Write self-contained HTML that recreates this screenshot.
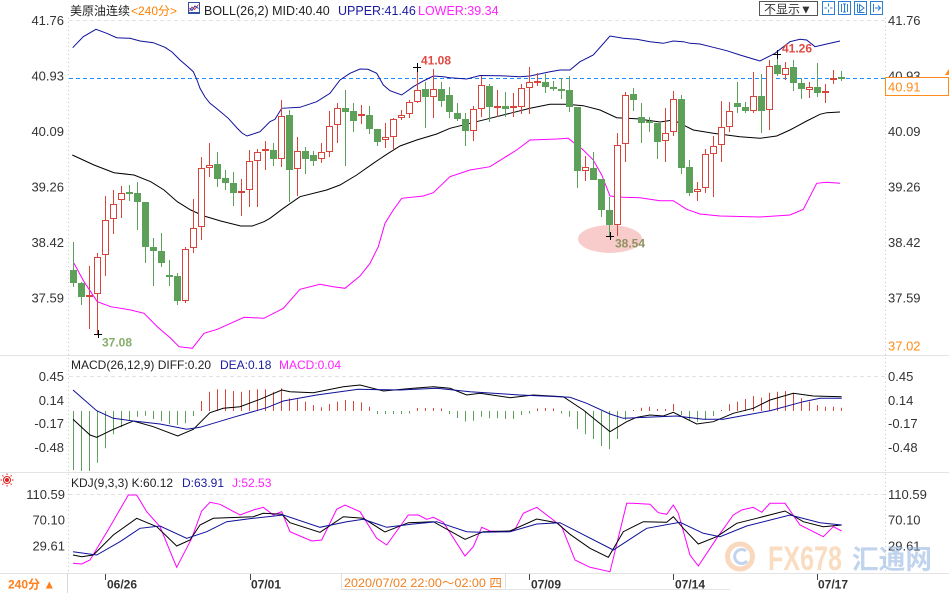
<!DOCTYPE html>
<html><head><meta charset="utf-8"><style>
html,body{margin:0;padding:0;background:#fff;}
svg{display:block;}
text{font-family:"Liberation Sans","Noto Sans CJK SC",sans-serif;}
</style></head><body>
<svg width="949" height="593" viewBox="0 0 949 593" xmlns="http://www.w3.org/2000/svg">
<rect width="949" height="593" fill="#fff"/>
<!-- panel separators -->
<g stroke="#e3e3e3" stroke-width="1">
<line x1="0" y1="355.5" x2="949" y2="355.5"/>
<line x1="0" y1="472.5" x2="949" y2="472.5"/>
<line x1="0" y1="573.5" x2="949" y2="573.5"/>
</g>
<!-- axes -->
<g stroke="#c8c8c8" stroke-width="1" stroke-dasharray="1,3">
<line x1="68.5" y1="18" x2="68.5" y2="573"/>
<line x1="885.5" y1="18" x2="885.5" y2="573"/>
</g>
<!-- grid dashed tops -->
<g stroke="#e2e2e2" stroke-width="1" stroke-dasharray="4,3">
<line x1="69" y1="20.5" x2="885" y2="20.5"/>
<line x1="69" y1="376.5" x2="885" y2="376.5"/>
<line x1="69" y1="494.5" x2="885" y2="494.5"/>
</g>
<!-- header -->
<text x="70" y="15" font-size="12" fill="#222">美原油连续</text>
<text x="131" y="15" font-size="12" fill="#ff8000">&lt;240分&gt;</text>
<g transform="translate(188,2)"><rect x="0.5" y="0.5" width="11" height="11" fill="#fff" stroke="#3050a0"/><polyline points="1.5,9 4,5 6.5,7.5 10.5,2.5" fill="none" stroke="#e03030"/><polyline points="1.5,6 4,8.5 7,4 10.5,6.5" fill="none" stroke="#2040c0"/><line x1="0.5" y1="10.5" x2="11.5" y2="10.5" stroke="#3050a0"/></g>
<text x="204" y="15" font-size="12.5" fill="#222">BOLL(26,2) MID:40.40</text>
<text x="338" y="15" font-size="12.5" fill="#1a1aa0">UPPER:41.46</text>
<text x="418" y="15" font-size="12.5" fill="#ff22ff">LOWER:39.34</text>
<!-- toolbar -->
<rect x="759.5" y="1.5" width="58" height="14" fill="#fff" stroke="#555"/>
<text x="764" y="13.5" font-size="12" fill="#333">不显示▼</text>
<g stroke="#2a7fd4" fill="#fff">
<rect x="822.5" y="1.5" width="12" height="13"/>
<rect x="838.5" y="1.5" width="12" height="13"/>
<rect x="854.5" y="1.5" width="12" height="13"/>
<rect x="870.5" y="1.5" width="12" height="13"/>
</g>
<g stroke="#2a7fd4" fill="none">
<path d="M828.5 3.5V6.5M828.5 9.5V12.5M824.5 8H827M830 8H832.5"/>
<path d="M841.5 4V12M847.5 4V12M844.5 4V12M843 4H846M843 12H846"/>
<path d="M857.5 3.5V12.5M857.5 12.5H864.5M859.5 4.5L864 8L859.5 11.5Z"/>
<path d="M873.5 4V12M875 8H880M878 5.5L880.5 8L878 10.5"/>
</g>
<!-- left labels -->
<g font-size="13" fill="#333" text-anchor="end">
<text x="64" y="25">41.76</text>
<text x="64" y="80.5">40.93</text>
<text x="64" y="136">40.09</text>
<text x="64" y="191.5">39.26</text>
<text x="64" y="247">38.42</text>
<text x="64" y="302.5">37.59</text>
<text x="64" y="381">0.45</text>
<text x="64" y="405">0.14</text>
<text x="64" y="428">-0.17</text>
<text x="64" y="452">-0.48</text>
<text x="65" y="499">110.59</text>
<text x="65" y="524.5">70.10</text>
<text x="65" y="550.5">29.61</text>
</g>
<!-- right labels -->
<g font-size="13" fill="#333">
<text x="888" y="25">41.76</text>
<text x="888" y="80.5">40.93</text>
<text x="888" y="136">40.09</text>
<text x="888" y="191.5">39.26</text>
<text x="888" y="247">38.42</text>
<text x="888" y="302.5">37.59</text>
<text x="888" y="350.5" fill="#ff8c1a">37.02</text>
<text x="888" y="381">0.45</text>
<text x="888" y="405">0.14</text>
<text x="888" y="428">-0.17</text>
<text x="888" y="452">-0.48</text>
<text x="888" y="499">110.59</text>
<text x="888" y="524.5">70.10</text>
<text x="888" y="550.5">29.61</text>
</g>
<!-- current price line and box -->
<line x1="69" y1="78.5" x2="885" y2="78.5" stroke="#1e8fff" stroke-width="1" stroke-dasharray="4,3"/>
<rect x="885.5" y="77.5" width="63" height="18" fill="#fff" stroke="#ff8c1a"/>
<text x="888" y="91.5" font-size="13" fill="#ff8c1a">40.91</text>
<polygon points="945,75 949,69 949,75" fill="#ff8c1a"/>
<!-- pink ellipse -->
<ellipse cx="610" cy="239" rx="32" ry="14" fill="#f9cccc"/>
<!-- bollinger -->
<g fill="none" stroke-width="1">
<polyline stroke="#10109a" points="72.7,47.7 83.3,36.7 96,29.3 106.7,33.3 116.7,37.7 130,38.3 140,41 153.3,42.7 165,47.3 172,52 180,60 187,66 193.3,71.7 197,80 200,88.3 205,97 210,103.3 216,108 228.3,118.3 237,128 242,133 247,136 250,135 260,131.7 270,121.7 275,119.3 281.7,108.3 300,107.3 316.7,101.7 330,93.3 340,80 350,73.3 360,69 368,69.3 376.7,73.3 383.3,85 390,90.7 401.7,95 413.3,86.7 423.3,81 433.3,76 443.3,76.7 450,77.8 466.7,79 480,75.5 500,75.7 520,76.7 530,76 550,71.7 560,70 570,70 580,61.7 593.3,55 610,36 623.3,38.3 636.7,39.3 650,41.7 663.3,43.3 673.3,41 683.3,41.7 690,43.3 700,44 713.3,47.3 726.7,50.7 740,55 753.3,59 760,61 775,53.3 790,41.7 800,39.3 806.7,40 815,46.7 826.7,44 840,41"/>
<polyline stroke="#000" points="72.3,155 94,165 114,172.7 134,175 150.7,181.7 164,190 177.3,201.7 190.7,210 204,216 220.7,221 240.7,226 252.3,226 264,221.7 270,218.3 283.3,208.3 300,196.7 326.7,190 340,185 356.7,175 373.3,163.3 386.7,154.3 400,146 416.7,140 436.7,134 450,128.3 470,123.3 490,118.3 510,113.3 530,108.3 550,104.3 566.7,104.3 583.3,105.7 600,110 616.7,117.7 636.7,118.8 660,122 673.3,120 693.3,130 713.3,133.3 740,136.7 760,138.3 776.7,136 790,130 806.7,121 820,114.3 826.7,112.7 840,112"/>
<polyline stroke="#ff00ff" points="74,263.3 84,281.7 97.3,301.7 110.7,306.7 130.7,310 144,313.3 157.3,326.7 170.7,338.3 179,346.7 192.3,348.3 204,333.3 217.3,329.3 230.7,323.3 244,317.3 264,318.3 283.3,308.3 300,289.3 320,284.3 333.3,286.7 345,288.3 360,276 370,263.3 378.3,246.7 385,223.3 393.3,210 401.7,198.3 423.3,196 433.3,192.7 450,176.7 470,170 490,166.7 503.3,158.3 516.7,150 530,140 556.7,139 568.3,138.3 576.7,145 583.3,150 593.3,160 601.7,175 610,196 623.3,197.3 640,197.7 660,200.7 673.3,200.7 686.7,209.3 700,214 720,216 760,217 790,215 803.3,209.3 816.7,183.3 826.7,182.3 840,183.3"/>
</g>
<!-- green wicks -->
<path fill="none" stroke="#5da05a" stroke-width="1" d="M73.5 242V287M81.5 282V305M129.5 185V201M137.5 182V230M145.5 202V263M153.5 238V286M161.5 233V267M169.5 260V286M177.5 273V305M217.5 152V187M225.5 170V190M233.5 172V206M273.5 143V166M289.5 110V202M305.5 147V174M313.5 151V166M345.5 90V166M353.5 103V132M369.5 106V134M377.5 129V146M425.5 82V128M441.5 82V107M449.5 87V118M457.5 103V121M465.5 113V146M489.5 84V122M505.5 92V117M545.5 74V93M553.5 81V91M561.5 78V99M569.5 76V112M577.5 107V188M593.5 152V180M601.5 179V217M609.5 197V236M633.5 88V111M641.5 103V143M649.5 117V132M657.5 123V159M681.5 95V174M689.5 160V196M737.5 82V113M745.5 102V113M761.5 74V133M777.5 53V76M793.5 60V91M801.5 78V99M817.5 63V97M841.5 71V81"/>
<!-- green bodies -->
<g fill="#5da05a">
<rect x="70" y="270" width="7" height="13"/><rect x="78" y="283" width="7" height="14"/><rect x="126" y="192" width="7" height="2"/><rect x="134" y="193" width="7" height="9"/><rect x="142" y="202" width="7" height="45"/><rect x="150" y="247" width="7" height="4"/><rect x="158" y="251" width="7" height="12"/><rect x="166" y="275" width="7" height="2"/><rect x="174" y="276" width="7" height="25"/><rect x="214" y="164" width="7" height="15"/><rect x="222" y="178" width="7" height="5"/><rect x="230" y="183" width="7" height="10"/><rect x="270" y="150" width="7" height="9"/><rect x="286" y="115" width="7" height="55"/><rect x="302" y="151" width="7" height="8"/><rect x="310" y="155" width="7" height="6"/><rect x="342" y="108" width="7" height="4"/><rect x="350" y="111" width="7" height="10"/><rect x="366" y="115" width="7" height="14"/><rect x="374" y="129" width="7" height="13"/><rect x="422" y="89" width="7" height="8"/><rect x="438" y="89" width="7" height="12"/><rect x="446" y="95" width="7" height="17"/><rect x="454" y="113" width="7" height="6"/><rect x="462" y="119" width="7" height="12"/><rect x="486" y="86" width="7" height="21"/><rect x="502" y="106" width="7" height="3"/><rect x="542" y="82" width="7" height="5"/><rect x="550" y="87" width="7" height="2"/><rect x="558" y="89" width="7" height="2"/><rect x="566" y="90" width="7" height="17"/><rect x="574" y="107" width="7" height="64"/><rect x="590" y="168" width="7" height="12"/><rect x="598" y="179" width="7" height="31"/><rect x="606" y="210" width="7" height="15"/><rect x="630" y="94" width="7" height="6"/><rect x="638" y="117" width="7" height="6"/><rect x="646" y="121" width="7" height="2"/><rect x="654" y="123" width="7" height="19"/><rect x="678" y="99" width="7" height="69"/><rect x="686" y="167" width="7" height="26"/><rect x="734" y="103" width="7" height="4"/><rect x="742" y="107" width="7" height="4"/><rect x="758" y="96" width="7" height="15"/><rect x="774" y="65" width="7" height="9"/><rect x="790" y="67" width="7" height="16"/><rect x="798" y="83" width="7" height="6"/><rect x="814" y="87" width="7" height="6"/><rect x="838" y="77" width="7" height="2"/>
</g>
<!-- red wicks -->
<path fill="none" stroke="#d9443a" stroke-width="1" d="M89.5 266V329M97.5 253V334M105.5 196V276M113.5 190V234M121.5 186V218M185.5 247V303M193.5 199V253M201.5 157V240M209.5 143V177M241.5 179V216M249.5 150V207M257.5 149V207M265.5 141V170M281.5 100V167M297.5 137V196M321.5 143V163M329.5 111V157M337.5 103V143M361.5 105V124M385.5 123V148M393.5 118V150M401.5 110V120M409.5 100V118M417.5 67V103M433.5 69V118M473.5 106V141M481.5 76V117M497.5 90V117M513.5 93V117M521.5 84V114M529.5 67V114M537.5 73V86M585.5 156V181M617.5 133V236M625.5 92V162M665.5 108V162M673.5 91V136M697.5 182V201M705.5 149V193M713.5 136V197M721.5 101V162M729.5 102V132M753.5 72V113M769.5 60V130M785.5 62V80M809.5 82V98M825.5 84V103M833.5 70V84"/>
<!-- red hollow bodies -->
<g fill="#fff" stroke="#d9443a" stroke-width="1">
<rect x="94.5" y="257.5" width="6" height="36"/><rect x="102.5" y="220.5" width="6" height="34"/><rect x="110.5" y="204.5" width="6" height="14"/><rect x="118.5" y="193.5" width="6" height="6"/><rect x="182.5" y="249.5" width="6" height="51"/><rect x="190.5" y="228.5" width="6" height="19"/><rect x="198.5" y="168.5" width="6" height="58"/><rect x="206.5" y="165.5" width="6" height="2"/><rect x="246.5" y="161.5" width="6" height="28"/><rect x="254.5" y="152.5" width="6" height="8"/><rect x="278.5" y="116.5" width="6" height="42"/><rect x="294.5" y="151.5" width="6" height="17"/><rect x="318.5" y="152.5" width="6" height="6"/><rect x="326.5" y="126.5" width="6" height="25"/><rect x="334.5" y="108.5" width="6" height="16"/><rect x="382.5" y="137.5" width="6" height="2"/><rect x="390.5" y="119.5" width="6" height="17"/><rect x="398.5" y="115.5" width="6" height="2"/><rect x="406.5" y="102.5" width="6" height="11"/><rect x="414.5" y="90.5" width="6" height="11"/><rect x="430.5" y="89.5" width="6" height="7"/><rect x="470.5" y="109.5" width="6" height="21"/><rect x="478.5" y="85.5" width="6" height="23"/><rect x="518.5" y="88.5" width="6" height="18"/><rect x="526.5" y="82.5" width="6" height="5"/><rect x="582.5" y="167.5" width="6" height="3"/><rect x="614.5" y="145.5" width="6" height="79"/><rect x="622.5" y="95.5" width="6" height="48"/><rect x="662.5" y="133.5" width="6" height="7"/><rect x="670.5" y="99.5" width="6" height="32"/><rect x="694.5" y="189.5" width="6" height="2"/><rect x="702.5" y="154.5" width="6" height="33"/><rect x="710.5" y="146.5" width="6" height="7"/><rect x="718.5" y="127.5" width="6" height="17"/><rect x="726.5" y="111.5" width="6" height="15"/><rect x="750.5" y="96.5" width="6" height="14"/><rect x="766.5" y="66.5" width="6" height="43"/><rect x="782.5" y="68.5" width="6" height="6"/><rect x="806.5" y="87.5" width="6" height="2"/>
</g>
<!-- red doji -->
<g fill="#d9443a">
<rect x="86" y="295" width="7" height="2"/><rect x="238" y="191" width="7" height="2"/><rect x="262" y="149" width="7" height="2"/><rect x="358" y="114" width="7" height="2"/><rect x="494" y="106" width="7" height="2"/><rect x="510" y="106" width="7" height="2"/><rect x="534" y="81" width="7" height="2"/><rect x="822" y="91" width="7" height="2"/><rect x="830" y="78" width="7" height="2"/>
</g>
<!-- markers -->
<g stroke="#000" stroke-width="1">
<path d="M413 67.5H421M417.5 63V72"/>
<path d="M773 54.5H781M777.5 50V59"/>
<path d="M94 334.5H102M98.5 330V338"/>
<path d="M606 236.5H614M610.5 232V240"/>
</g>
<text x="421" y="64.5" font-size="12" font-weight="bold" fill="#e04a42">41.08</text>
<text x="782" y="52.5" font-size="12" font-weight="bold" fill="#e04a42">41.26</text>
<text x="102" y="346.5" font-size="12" font-weight="bold" fill="#86ad6a">37.08</text>
<text x="615" y="247.5" font-size="12" font-weight="bold" fill="#8f9262">38.54</text>
<!-- MACD header -->
<text x="71" y="369" font-size="12" fill="#222">MACD(26,12,9) DIFF:0.20</text>
<text x="220" y="369" font-size="12" fill="#1a1aa0">DEA:0.18</text>
<text x="279" y="369" font-size="12" fill="#ff22ff">MACD:0.04</text>
<!-- MACD bars -->
<path fill="none" stroke="#5da05a" stroke-width="1" d="M73.5 411V470M81.5 411V471M89.5 411V471M97.5 411V462.7M105.5 411V448.3M113.5 411V434.3M121.5 411V427.3M129.5 411V420M137.5 411V416.7M145.5 411V415.7M153.5 411V419M161.5 411V421M169.5 411V424.3M177.5 411V425M185.5 411V423.3M193.5 411V416M377.5 411V414M385.5 411V414M393.5 411V414M401.5 411V414M409.5 411V413.5M449.5 411V414M457.5 411V418M465.5 411V421.5M473.5 411V420.7M481.5 411V416.7M489.5 411V418.3M497.5 411V418.3M505.5 411V419M513.5 411V419M521.5 411V415M529.5 411V413.5M561.5 411V413.5M569.5 411V416.7M577.5 411V429M585.5 411V434.3M593.5 411V439M601.5 411V446M609.5 411V449.3M617.5 411V439M625.5 411V420M681.5 411V415M689.5 411V420M697.5 411V421.7M705.5 411V420M713.5 411V416"/>
<path fill="none" stroke="#d9443a" stroke-width="1" d="M201.5 411V401M209.5 411V391.7M217.5 411V389.3M225.5 411V389.3M233.5 411V391M241.5 411V391.7M249.5 411V390M257.5 411V389.3M265.5 411V389.3M273.5 411V391.7M281.5 411V388.3M289.5 411V398.3M297.5 411V399.3M305.5 411V401.7M313.5 411V405M321.5 411V407.3M329.5 411V404M337.5 411V401.7M345.5 411V400M353.5 411V401M361.5 411V402.3M369.5 411V406.7M417.5 411V408M425.5 411V408M433.5 411V408M441.5 411V408.5M537.5 411V408.5M545.5 411V408M553.5 411V408.5M633.5 411V410M641.5 411V407.7M649.5 411V406.7M657.5 411V409M665.5 411V409M673.5 411V404M721.5 411V410M729.5 411V404.3M737.5 411V401.7M745.5 411V399M753.5 411V396M761.5 411V397.7M769.5 411V392.7M777.5 411V391.7M785.5 411V391M793.5 411V393.3M801.5 411V398.3M809.5 411V401.7M817.5 411V405M825.5 411V406.7M833.5 411V406.7M841.5 411V407.7"/>
<g fill="none" stroke-width="1">
<polyline stroke="#000" points="73,419.3 90,435 96.7,437.3 113.3,429.3 133.3,421 153.3,426.7 177.7,436 193.3,429.3 210,412.7 223.3,408.3 240,406.7 260,399.3 281.7,390 290,391.7 313.3,392.7 343.3,386.7 360,385 383.3,391 413.3,388.3 433.3,386.7 450,388.3 466.7,395 480,393.3 510,397.7 533.3,395 563.3,396.7 583.3,410 610,431.7 626.7,421.7 636.7,417.3 650,415 663.3,416 673.3,412.3 696.7,424 713.3,421.7 733.3,413.3 753.3,408.3 770,400 793.3,393.3 813.3,396 841.7,396.7"/>
<polyline stroke="#10109a" points="73,390 96.7,410.7 113.3,418.3 133.3,421 160,424 186.7,429.3 200,427.3 233.3,417.3 266.7,407.7 283.3,401 316.7,395 358.3,389.3 400,390 436.7,388.3 470,391.7 520,395 570,397.3 586.7,403.3 610,414 623.3,418.3 646.7,417.3 676.7,416 703.3,419.3 723.3,419.3 770,410.7 803.3,401.7 820,398.3 841.7,398.3"/>
</g>
<!-- KDJ header -->
<g transform="translate(7,480)" stroke="#e02020" fill="none">
<circle r="3.5"/><circle r="1.5" fill="#e02020"/>
<path d="M0 -6.5V-5M0 5V6.5M-6.5 0H-5M5 0H6.5M-4.6 -4.6L-3.6 -3.6M3.6 3.6L4.6 4.6M-4.6 4.6L-3.6 3.6M3.6 -3.6L4.6 -4.6"/>
</g>
<text x="71" y="487" font-size="12" fill="#222">KDJ(9,3,3) K:60.12</text>
<text x="182" y="487" font-size="12" fill="#1a1aa0">D:63.91</text>
<text x="232" y="487" font-size="12" fill="#ff22ff">J:52.53</text>
<g fill="none" stroke-width="1">
<polyline stroke="#ff00ff" points="73,563.3 81.7,564 90,560 110,526.7 128.3,495 136.7,495 146.7,511.7 160,526.7 176.7,567.3 191.7,538.3 201.7,511 210,502.3 220,504.3 240,515 253.3,510 263.3,507.3 273.3,515 281.7,511.7 290,531.7 311.7,541 321.7,540 336.7,509.3 345,505 360,511.7 376.7,538.3 386.7,545 408.3,515 418.3,515 426.7,519.3 433.3,517.3 443.3,522.3 465,556 473.3,546.7 481.7,527.3 490,531 508.3,531.7 515,529.3 523.3,513.3 536.7,507.3 553.3,520 561.7,526.7 575,560 590,567.3 610,571.7 626.7,503.3 633.3,503.3 650,504.3 658.3,512.7 666.7,514.3 673.3,505 678.3,513.3 690,555 698.3,566 716.7,538.3 733.3,515 741.7,510 753.3,507.3 761.7,512.3 770,503.3 785,503.3 800,525 823.3,536.7 833.3,526.7 841.7,531"/>
<polyline stroke="#000" points="73,555 81.7,556.7 93.3,555 113.3,535 136.7,518.3 156.7,526.7 176.7,546 190,540 200,525 213.3,518.3 226.7,517.7 253.3,516.7 263.3,513.3 281.7,514.3 290,522.7 320,532.3 343.3,516.7 363.3,518.3 385,532 408.3,522.7 433.3,521.7 465,539.3 483.3,531.7 510,531 536.7,519 556.7,522.7 570,534.3 590,548.3 608.3,557.3 623.3,531.7 643.3,521.7 666.7,522.3 673.3,516.7 683.3,528.3 698.3,544 716.7,536.7 736.7,523.3 756.7,518.3 785,511 803.3,521.7 823.3,526.7 841.7,525"/>
<polyline stroke="#10109a" points="73,551.7 96.7,555 120,541.7 140,528.3 160,526 186.7,538.3 206.7,531.7 226.7,521.7 253.3,518.3 283.3,515 320,527.3 346.7,521.7 363.3,519.3 386.7,527.3 413.3,524 436.7,521.7 466.7,531.7 480,532.3 510,531.7 536.7,524 560,522.7 613.3,550 646.7,528.3 680,522.3 703.3,533.3 720,536.7 746.7,526 790,515 820,522.7 841.7,525"/>
</g>
<!-- watermark -->
<g opacity="0.55">
<circle cx="740" cy="556.5" r="12.5" fill="none" stroke="#f6b98a" stroke-width="5"/>
<path d="M746 551 A7 7 0 1 0 747 561" fill="none" stroke="#8fb2e0" stroke-width="3"/>
<text x="768" y="570" font-size="34" font-weight="bold" fill="#f7c08f" textLength="74" lengthAdjust="spacingAndGlyphs">FX678</text>
<text x="852" y="569" font-size="27" font-weight="bold" fill="#8fb2e0" textLength="80" lengthAdjust="spacingAndGlyphs" style="font-family:'Noto Sans CJK SC',sans-serif">汇通网</text>
</g>
<!-- bottom axis -->
<line x1="67.5" y1="573" x2="67.5" y2="593" stroke="#d8d8d8"/>
<text x="8" y="588.5" font-size="12" font-weight="bold" fill="#ff7f1a">240分 ▲</text>
<g stroke="#444" stroke-width="1">
<line x1="105.5" y1="574" x2="105.5" y2="580"/>
<line x1="250.5" y1="574" x2="250.5" y2="580"/>
<line x1="529.5" y1="574" x2="529.5" y2="580"/>
<line x1="673.5" y1="574" x2="673.5" y2="580"/>
<line x1="817.5" y1="574" x2="817.5" y2="580"/>
</g>
<g font-size="12" font-weight="bold" fill="#333">
<text x="107" y="588.5">06/26</text>
<text x="251" y="588.5">07/01</text>
<text x="531" y="588.5">07/09</text>
<text x="675" y="588.5">07/14</text>
<text x="818" y="588.5">07/17</text>
</g>
<line x1="341" y1="589.5" x2="730" y2="589.5" stroke="#e6e6e6"/>
<rect x="341.5" y="573.5" width="164" height="16" fill="#fff" stroke="#e0e0e0"/>
<text x="344" y="587" font-size="12" fill="#f08020" textLength="158" lengthAdjust="spacingAndGlyphs">2020/07/02 22:00～02:00 四</text>
</svg>
</body></html>
